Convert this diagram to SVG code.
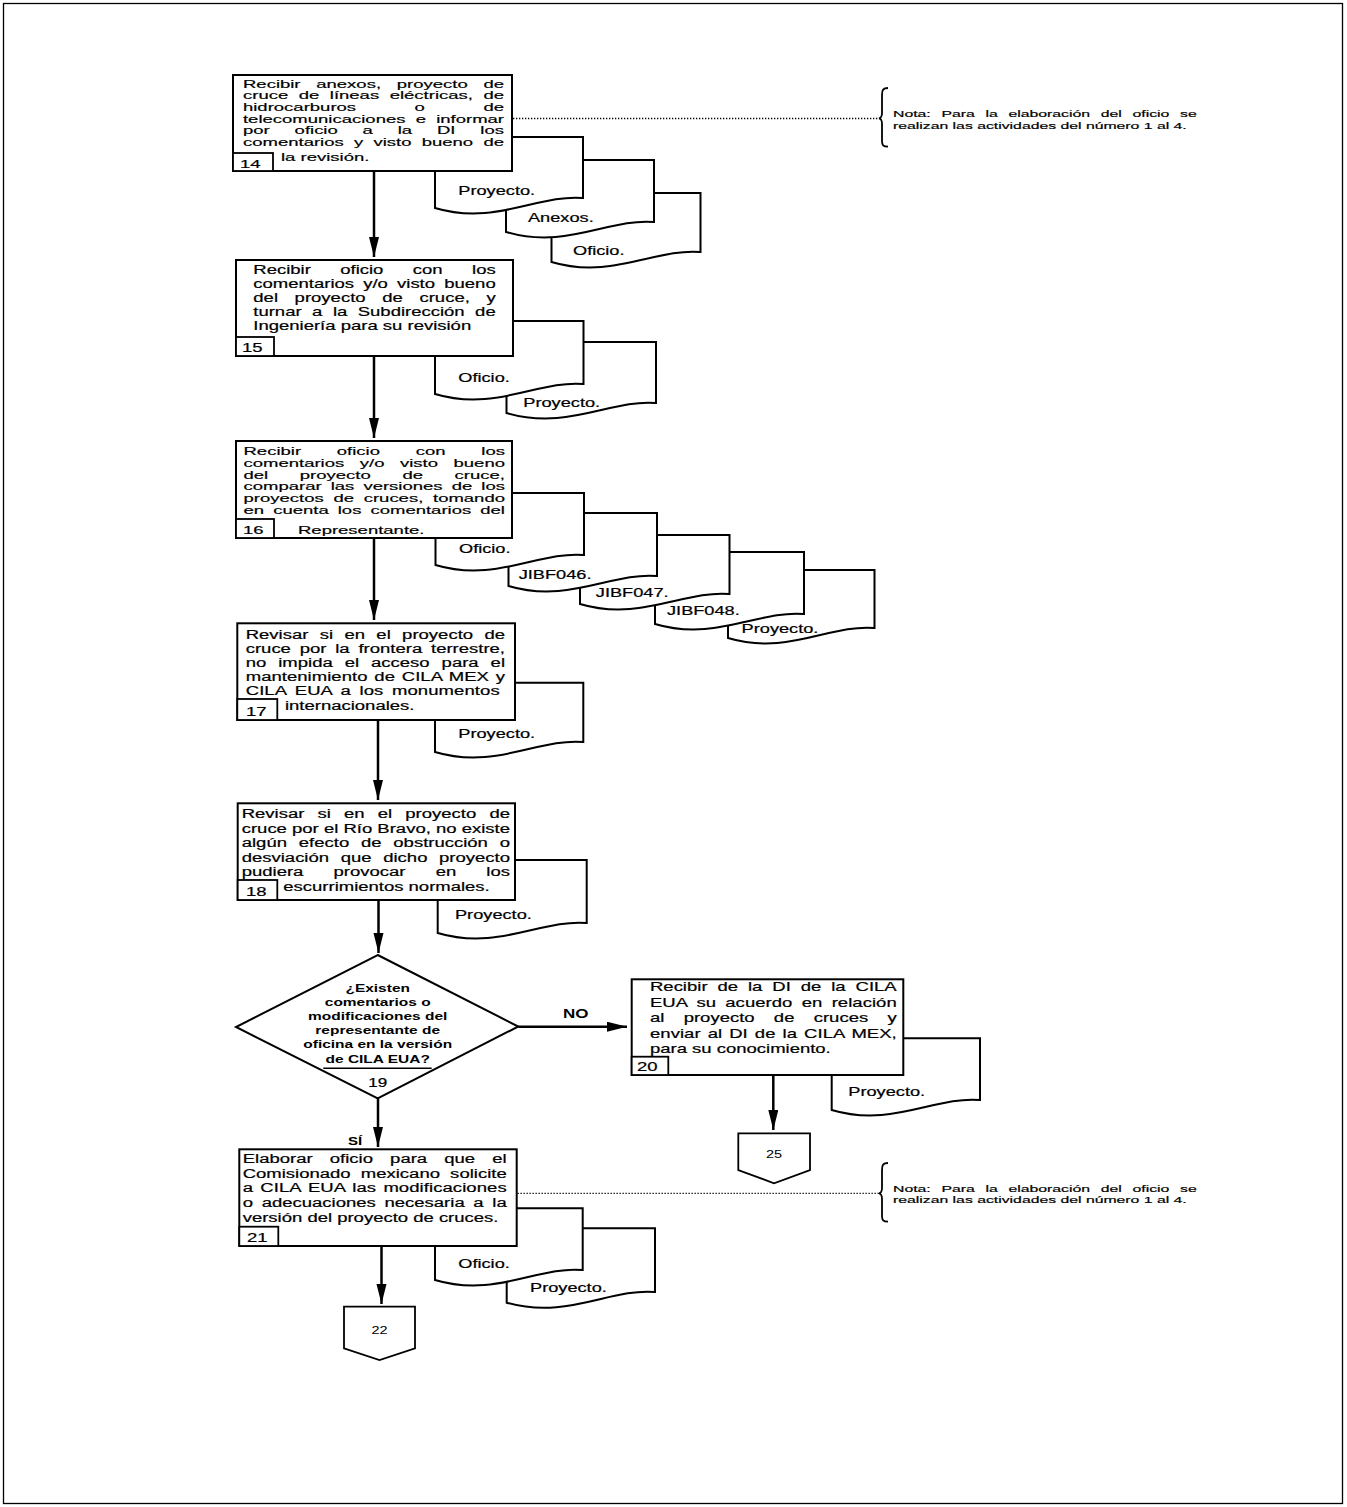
<svg xmlns="http://www.w3.org/2000/svg" width="1347" height="1507" viewBox="0 0 1347 1507">
<style>
.frame{fill:none;stroke:#000;stroke-width:1.3}
.box{fill:#fff;stroke:#000;stroke-width:2}
.num{fill:#fff;stroke:#000;stroke-width:1.8}
.doc{fill:#fff;stroke:#000;stroke-width:2}
.t{font-family:"Liberation Sans",Arial,Helvetica,sans-serif;font-size:18.5px;fill:#000;stroke:#000;stroke-width:0.3}
.d{font-family:"Liberation Sans",Arial,Helvetica,sans-serif;font-size:18.2px;fill:#000;stroke:#000;stroke-width:0.3}
.b{font-family:"Liberation Sans",Arial,Helvetica,sans-serif;font-size:15.5px;font-weight:bold;fill:#000}
.n{font-family:"Liberation Sans",Arial,Helvetica,sans-serif;font-size:15.8px;fill:#000;stroke:#000;stroke-width:0.3}
.o{font-family:"Liberation Sans",Arial,Helvetica,sans-serif;font-size:14.5px;fill:#000}
.conn line{stroke:#000;stroke-width:2.5}
.dot{stroke:#000;stroke-width:1.3;stroke-dasharray:1.3 1.7;fill:none}
.brace{fill:none;stroke:#000;stroke-width:1.8}
</style>
<defs>
<marker id="ah" markerUnits="userSpaceOnUse" markerWidth="20" markerHeight="12" refX="20" refY="5" orient="auto">
<path d="M0,0 L20,5 L0,10 Z" fill="#000"/>
</marker>
</defs>
<rect class="frame" x="3.5" y="3.5" width="1339" height="1500"/>

<g id="n14">
<path class="doc" d="M551.5,262 V193 H700.5 V252 C655.5,248 611.5,280 551.5,262 Z"/>
<path class="doc" d="M506,232 V160 H654 V222 C609,218 566,250 506,232 Z"/>
<path class="doc" d="M435,208 V137 H583 V198 C538,194 495,226 435,208 Z"/>
<text class="d" transform="matrix(1 0 0 .66 0 195)" x="458.3">Proyecto.</text>
<text class="d" transform="matrix(1 0 0 .66 0 222.3)" x="528">Anexos.</text>
<text class="d" transform="matrix(1 0 0 .66 0 255)" x="573">Oficio.</text>
<rect class="box" x="233" y="75" width="279" height="96"/>
<rect class="num" x="233" y="153" width="40" height="18"/>
<text class="t" transform="matrix(1 0 0 .63 0 167.5)" x="240">14</text>
<text class="t" transform="matrix(1 0 0 .63 0 87.5)" x="243" word-spacing="10.6" textLength="261" lengthAdjust="spacing">Recibir anexos, proyecto de</text>
<text class="t" transform="matrix(1 0 0 .63 0 99.2)" x="243" word-spacing="5.35" textLength="261" lengthAdjust="spacing">cruce de líneas eléctricas, de</text>
<text class="t" transform="matrix(1 0 0 .63 0 110.9)" x="243" word-spacing="53.4" textLength="261" lengthAdjust="spacing">hidrocarburos o de</text>
<text class="t" transform="matrix(1 0 0 .63 0 122.6)" x="243" word-spacing="5.05" textLength="261" lengthAdjust="spacing">telecomunicaciones e informar</text>
<text class="t" transform="matrix(1 0 0 .63 0 134.3)" x="243" word-spacing="19.7" textLength="261" lengthAdjust="spacing">por oficio a la DI los</text>
<text class="t" transform="matrix(1 0 0 .63 0 146)" x="243" word-spacing="5.1" textLength="261" lengthAdjust="spacing">comentarios y visto bueno de</text>
<text class="t" transform="matrix(1 0 0 .63 0 161)" x="281">la revisión.</text>
</g>

<g id="note1">
<path class="brace" d="M888,88 C883,88 882,90 882,95 L882,113 C882,116 881,118 879,118.3 C881,118.6 882,121 882,124 L882,141 C882,145 883,146.7 888,146.7"/>
<text class="n" transform="matrix(1 0 0 .62 0 117.3)" x="893" word-spacing="6.3" textLength="303.7" lengthAdjust="spacing">Nota: Para la elaboración del oficio se</text>
<text class="n" transform="matrix(1 0 0 .62 0 128.8)" x="893">realizan las actividades del número 1 al 4.</text>
</g>

<g id="n15">
<path class="doc" d="M506.5,413 V342 H656 V403 C611,399 567.5,431 506.5,413 Z"/>
<path class="doc" d="M435,394 V321 H583.5 V384 C538.5,380 495,412 435,394 Z"/>
<text class="d" transform="matrix(1 0 0 .66 0 381.7)" x="458.3">Oficio.</text>
<text class="d" transform="matrix(1 0 0 .66 0 406.7)" x="523.3">Proyecto.</text>
<rect class="box" x="236" y="260" width="277" height="96"/>
<rect class="num" x="236" y="337" width="38" height="19"/>
<text class="t" transform="matrix(1 0 0 .65 0 351.5)" x="242">15</text>
<text class="t" transform="matrix(1 0 0 .65 0 274)" x="253.3" word-spacing="24.3" textLength="242.4" lengthAdjust="spacing">Recibir oficio con los</text>
<text class="t" transform="matrix(1 0 0 .65 0 288)" x="253.3" word-spacing="4" textLength="242.4" lengthAdjust="spacing">comentarios y/o visto bueno</text>
<text class="t" transform="matrix(1 0 0 .65 0 301.5)" x="253.3" word-spacing="11.5" textLength="242.4" lengthAdjust="spacing">del proyecto de cruce, y</text>
<text class="t" transform="matrix(1 0 0 .65 0 315.5)" x="253.3" word-spacing="5.35" textLength="242.4" lengthAdjust="spacing">turnar a la Subdirección de</text>
<text class="t" transform="matrix(1 0 0 .65 0 330)" x="253.3">Ingeniería para su revisión</text>
</g>

<g id="n16">
<path class="doc" d="M728,638 V570 H874.5 V628 C829.5,624 788,656 728,638 Z"/>
<path class="doc" d="M655,624 V552 H804 V614 C759,610 715,642 655,624 Z"/>
<path class="doc" d="M580,604 V535 H729.5 V594 C684.5,590 640,622 580,604 Z"/>
<path class="doc" d="M508.5,586 V513 H657 V576 C612,572 568.5,604 508.5,586 Z"/>
<path class="doc" d="M435.5,565 V493 H584 V555 C539,551 495.5,583 435.5,565 Z"/>
<text class="d" transform="matrix(1 0 0 .66 0 552.7)" x="459">Oficio.</text>
<text class="d" transform="matrix(1 0 0 .66 0 578.6)" x="518.7">JIBF046.</text>
<text class="d" transform="matrix(1 0 0 .66 0 597)" x="595.8">JIBF047.</text>
<text class="d" transform="matrix(1 0 0 .66 0 615)" x="667">JIBF048.</text>
<text class="d" transform="matrix(1 0 0 .66 0 633)" x="741.6">Proyecto.</text>
<rect class="box" x="236" y="441" width="276" height="97"/>
<rect class="num" x="236" y="519" width="38" height="19"/>
<text class="t" transform="matrix(1 0 0 .63 0 534)" x="243">16</text>
<text class="t" transform="matrix(1 0 0 .63 0 455)" x="243.5" word-spacing="30.6" textLength="261.5" lengthAdjust="spacing">Recibir oficio con los</text>
<text class="t" transform="matrix(1 0 0 .63 0 466.8)" x="243.5" word-spacing="10.4" textLength="261.5" lengthAdjust="spacing">comentarios y/o visto bueno</text>
<text class="t" transform="matrix(1 0 0 .63 0 478.6)" x="243.5" word-spacing="26.5" textLength="261.5" lengthAdjust="spacing">del proyecto de cruce,</text>
<text class="t" transform="matrix(1 0 0 .63 0 490.4)" x="243.5" word-spacing="3.95" textLength="261.5" lengthAdjust="spacing">comparar las versiones de los</text>
<text class="t" transform="matrix(1 0 0 .63 0 502.2)" x="243.5" word-spacing="4.6" textLength="261.5" lengthAdjust="spacing">proyectos de cruces, tomando</text>
<text class="t" transform="matrix(1 0 0 .63 0 514)" x="243.5" word-spacing="3.9" textLength="261.5" lengthAdjust="spacing">en cuenta los comentarios del</text>
<text class="t" transform="matrix(1 0 0 .63 0 533.5)" x="298">Representante.</text>
</g>

<g id="n17">
<path class="doc" d="M435,752 V682.7 H583.3 V742 C538.3,738 495,770 435,752 Z"/>
<text class="d" transform="matrix(1 0 0 .66 0 738)" x="458.3">Proyecto.</text>
<rect class="box" x="237.3" y="623.3" width="277.7" height="96.7"/>
<rect class="num" x="237.3" y="699" width="40" height="21"/>
<text class="t" transform="matrix(1 0 0 .66 0 715.5)" x="246">17</text>
<text class="t" transform="matrix(1 0 0 .66 0 638.5)" x="245.7" word-spacing="6.2" textLength="259.3" lengthAdjust="spacing">Revisar si en el proyecto de</text>
<text class="t" transform="matrix(1 0 0 .66 0 652.5)" x="245.7" word-spacing="3.65" textLength="259.3" lengthAdjust="spacing">cruce por la frontera terrestre,</text>
<text class="t" transform="matrix(1 0 0 .66 0 666.7)" x="245.7" word-spacing="6.8" textLength="259.3" lengthAdjust="spacing">no impida el acceso para el</text>
<text class="t" transform="matrix(1 0 0 .66 0 681)" x="245.7" word-spacing="1.6" textLength="259.3" lengthAdjust="spacing">mantenimiento de CILA MEX y</text>
<text class="t" transform="matrix(1 0 0 .66 0 695.2)" x="245.7" word-spacing="3.35" textLength="254" lengthAdjust="spacing">CILA EUA a los monumentos</text>
<text class="t" transform="matrix(1 0 0 .66 0 709.5)" x="285">internacionales.</text>
</g>

<g id="n18">
<path class="doc" d="M437.7,933 V860 H586.7 V923 C541.7,919 497.7,951 437.7,933 Z"/>
<text class="d" transform="matrix(1 0 0 .66 0 919.3)" x="455">Proyecto.</text>
<rect class="box" x="237.7" y="803.3" width="277.3" height="96.7"/>
<rect class="num" x="237.7" y="880" width="39.6" height="20"/>
<text class="t" transform="matrix(1 0 0 .66 0 895.5)" x="246">18</text>
<text class="t" transform="matrix(1 0 0 .66 0 818)" x="241.7" word-spacing="8" textLength="268.3" lengthAdjust="spacing">Revisar si en el proyecto de</text>
<text class="t" transform="matrix(1 0 0 .66 0 832.5)" x="241.7" textLength="268.3" lengthAdjust="spacing">cruce por el Río Bravo, no existe</text>
<text class="t" transform="matrix(1 0 0 .66 0 847)" x="241.7" word-spacing="6.65" textLength="268.3" lengthAdjust="spacing">algún efecto de obstrucción o</text>
<text class="t" transform="matrix(1 0 0 .66 0 861.5)" x="241.7" word-spacing="6.5" textLength="268.3" lengthAdjust="spacing">desviación que dicho proyecto</text>
<text class="t" transform="matrix(1 0 0 .66 0 876)" x="241.7" word-spacing="25" textLength="268.3" lengthAdjust="spacing">pudiera provocar en los</text>
<text class="t" transform="matrix(1 0 0 .66 0 890.5)" x="283.3">escurrimientos normales.</text>
</g>

<g id="n19">
<polygon class="box" points="377.7,955 518.3,1026.5 377.7,1098.3 236,1027"/>
<line x1="323.3" y1="1068.3" x2="431.7" y2="1068.3" stroke="#000" stroke-width="1.5"/>
<text class="b" text-anchor="middle" transform="matrix(1 0 0 .7 0 991.5)" x="377.7">¿Existen</text>
<text class="b" text-anchor="middle" transform="matrix(1 0 0 .7 0 1005.7)" x="377.7">comentarios o</text>
<text class="b" text-anchor="middle" transform="matrix(1 0 0 .7 0 1020)" x="377.7">modificaciones del</text>
<text class="b" text-anchor="middle" transform="matrix(1 0 0 .7 0 1034.2)" x="377.7">representante de</text>
<text class="b" text-anchor="middle" transform="matrix(1 0 0 .7 0 1048.4)" x="377.7">oficina en la versión</text>
<text class="b" text-anchor="middle" transform="matrix(1 0 0 .7 0 1062.6)" x="377.7">de CILA EUA?</text>
<text class="t" text-anchor="middle" style="font-size:17px" transform="matrix(1 0 0 .7 0 1087.3)" x="377.7">19</text>
</g>

<g id="n20">
<path class="doc" d="M831.7,1110 V1038.3 H980 V1100 C935,1096 891.7,1128 831.7,1110 Z"/>
<text class="d" transform="matrix(1 0 0 .66 0 1096)" x="848.3">Proyecto.</text>
<rect class="box" x="631.7" y="979.3" width="271.6" height="95.7"/>
<rect class="num" x="631.7" y="1056.7" width="36.6" height="18.3"/>
<text class="t" transform="matrix(1 0 0 .68 0 1071)" x="637">20</text>
<text class="t" transform="matrix(1 0 0 .68 0 991)" x="650" word-spacing="4.8" textLength="246.7" lengthAdjust="spacing">Recibir de la DI de la CILA</text>
<text class="t" transform="matrix(1 0 0 .68 0 1006.5)" x="650" word-spacing="4.1" textLength="246.7" lengthAdjust="spacing">EUA su acuerdo en relación</text>
<text class="t" transform="matrix(1 0 0 .68 0 1022)" x="650" word-spacing="14.1" textLength="246.7" lengthAdjust="spacing">al proyecto de cruces y</text>
<text class="t" transform="matrix(1 0 0 .68 0 1037.5)" x="650" word-spacing="1.9" textLength="246.7" lengthAdjust="spacing">enviar al DI de la CILA MEX,</text>
<text class="t" transform="matrix(1 0 0 .68 0 1053)" x="650">para su conocimiento.</text>
</g>

<g id="c25">
<polygon class="num" points="738.3,1133.3 810,1133.3 810,1170 774,1183.3 738.3,1170"/>
<text class="o" text-anchor="middle" transform="matrix(1 0 0 .8 0 1158)" x="774">25</text>
</g>

<g id="n21">
<path class="doc" d="M506.7,1302.7 V1228.3 H655 V1292 C610,1288 566.7,1320 506.7,1302.7 Z"/>
<path class="doc" d="M435,1280 V1208.3 H582.7 V1270 C537.7,1266 495,1298 435,1280 Z"/>
<text class="d" transform="matrix(1 0 0 .66 0 1268)" x="458.3">Oficio.</text>
<text class="d" transform="matrix(1 0 0 .66 0 1291.7)" x="530">Proyecto.</text>
<rect class="box" x="239.3" y="1149.3" width="277.4" height="96.7"/>
<rect class="num" x="239.3" y="1226.7" width="39" height="19.3"/>
<text class="t" transform="matrix(1 0 0 .66 0 1242)" x="247">21</text>
<text class="t" transform="matrix(1 0 0 .66 0 1163.3)" x="242.7" word-spacing="12" textLength="264" lengthAdjust="spacing">Elaborar oficio para que el</text>
<text class="t" transform="matrix(1 0 0 .66 0 1178)" x="242.7" word-spacing="5" textLength="264" lengthAdjust="spacing">Comisionado mexicano solicite</text>
<text class="t" transform="matrix(1 0 0 .66 0 1192.3)" x="242.7" word-spacing="2" textLength="264" lengthAdjust="spacing">a CILA EUA las modificaciones</text>
<text class="t" transform="matrix(1 0 0 .66 0 1207)" x="242.7" word-spacing="3.5" textLength="264" lengthAdjust="spacing">o adecuaciones necesaria a la</text>
<text class="t" transform="matrix(1 0 0 .66 0 1221.5)" x="242.7">versión del proyecto de cruces.</text>
</g>

<g id="note2">
<path class="brace" d="M888,1165 C883,1165 882,1167 882,1172 L882,1190 C882,1193 881,1195 879,1195.3 C881,1195.6 882,1198 882,1201 L882,1218 C882,1222 883,1223.7 888,1223.7" transform="translate(0,-2)"/>
<text class="n" transform="matrix(1 0 0 .62 0 1191.7)" x="893" word-spacing="6.3" textLength="303.7" lengthAdjust="spacing">Nota: Para la elaboración del oficio se</text>
<text class="n" transform="matrix(1 0 0 .62 0 1203.3)" x="893">realizan las actividades del número 1 al 4.</text>
</g>

<g id="c22">
<polygon class="num" points="344,1306.7 415,1306.7 415,1348.3 379.5,1360 344,1348.3"/>
<text class="o" text-anchor="middle" transform="matrix(1 0 0 .8 0 1334)" x="379.5">22</text>
</g>

<g id="connectors">
<g class="conn">
<line x1="374" y1="171" x2="374" y2="257" marker-end="url(#ah)"/>
<line x1="374" y1="356" x2="374" y2="438" marker-end="url(#ah)"/>
<line x1="374" y1="538" x2="374" y2="620" marker-end="url(#ah)"/>
<line x1="378" y1="720" x2="378" y2="800" marker-end="url(#ah)"/>
<line x1="378.5" y1="900" x2="378.5" y2="953" marker-end="url(#ah)"/>
<line x1="378" y1="1098.3" x2="378" y2="1147" marker-end="url(#ah)"/>
<line x1="518.3" y1="1026.7" x2="627" y2="1026.7" marker-end="url(#ah)"/>
<line x1="773.3" y1="1075" x2="773.3" y2="1130" marker-end="url(#ah)"/>
<line x1="381.5" y1="1246" x2="381.5" y2="1304" marker-end="url(#ah)"/>
</g>
<line class="dot" x1="513" y1="118.5" x2="879" y2="118.5"/>
<line class="dot" x1="517.5" y1="1193.3" x2="879" y2="1193.3"/>
<text class="b" style="font-size:17px" transform="matrix(1 0 0 .7 0 1018)" x="563">NO</text>
<text class="b" style="font-size:15px" transform="matrix(1 0 0 .7 0 1145)" x="348">SÍ</text>
</g>
</svg>
